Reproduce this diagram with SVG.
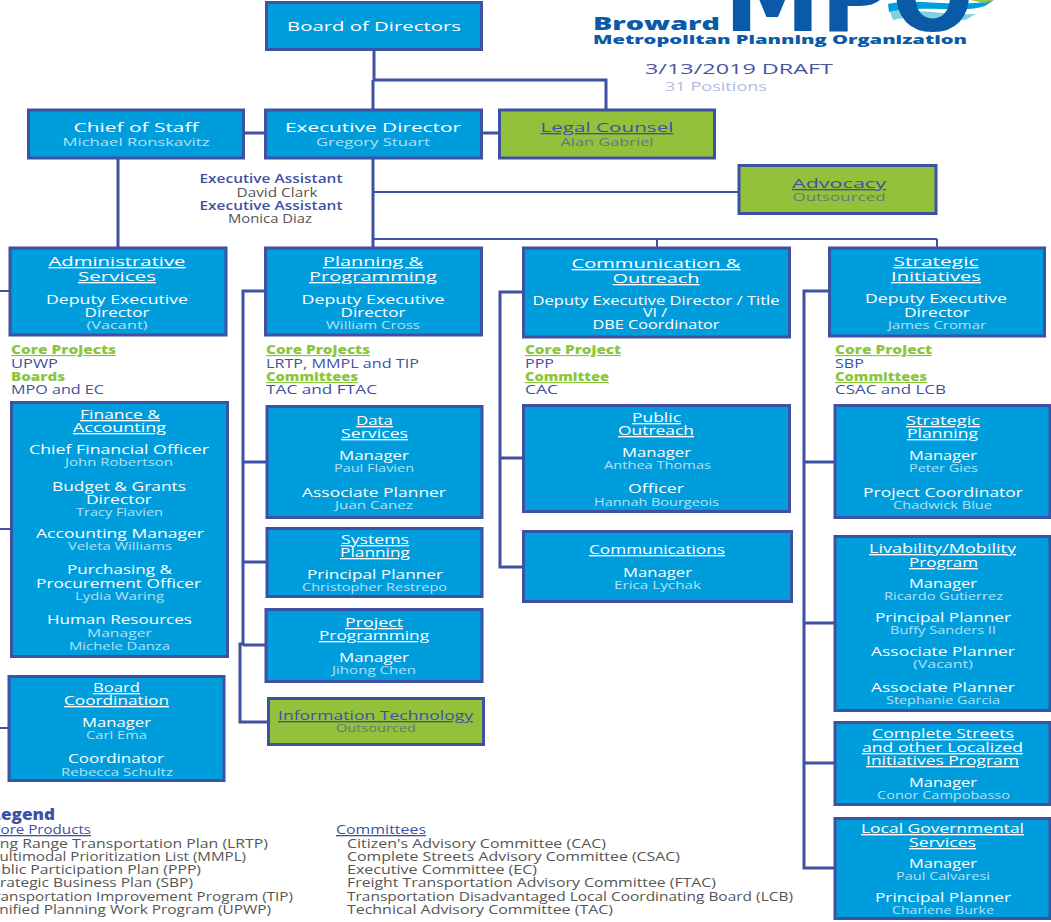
<svg xmlns="http://www.w3.org/2000/svg" width="1051" height="922" viewBox="0 0 1051 922">
<style>
text{font-family:"Open Sans","Liberation Sans",sans-serif;}
.b{fill:#009ddc;stroke:#3f51a3;stroke-width:3}
.g{fill:#93c13c;stroke:#3f51a3;stroke-width:3}
.c{fill:none;stroke:#3f51a3;stroke-width:3}
.t{stroke-width:2}
.h,.r,.n,.gh,.gn{text-anchor:middle}
.h{fill:#fff;font-size:13.5px;text-decoration:underline}
.ht{fill:#fff;font-size:13.5px;text-anchor:middle}
.r{fill:#fff;font-size:12.5px;font-weight:500}
.n{fill:#b5e0f5;font-size:11px}
.gh{fill:#3f51a3;font-size:13.5px;text-decoration:underline}
.gn{fill:#5a7d7a;font-size:11px}
.lh{fill:#8cc63f;font-size:11.5px;font-weight:800;text-decoration:underline}
.lv{fill:#3f51a3;font-size:12px;font-weight:500}
.ea{fill:#3f51a3;font-size:12px;font-weight:600;text-anchor:middle}
.ep{fill:#555;font-size:12px;text-anchor:middle}
.lg{fill:#555;font-size:12px}
.lu{fill:#3f51a3;font-size:13px;text-decoration:underline}
.logo{fill:#0a5aa8;font-weight:800}
</style>
<g id="connectors">
<path class="c" d="M374 50V80M373 80V110M373 80H606V110M265 133H244M482 133H499M373 158V248M118 159V247"/>
<path class="c t" d="M373 192H738M373 239H937M657 239V248M937 239V248"/>
<path class="c" d="M264 291H243V645M243 462H266M243 562H266M243 645H265"/>
<path class="c" d="M243 644H240V722H267"/>
<path class="c" d="M522 292H500V567H522M500 458H522"/>
<path class="c" d="M828 291H804V868H834M804 462H834M804 623H834M804 763H834"/>
<path class="c t" d="M0 291H9M0 529H10M0 728H8"/>
</g>
<g id="logo">
<path d="M888 4C915 -3 960 9 994 0L985 6C960 14 925 4 889 12Z" fill="#00a0dc"/>
<path d="M890 12C920 8 945 16 976 14L965 20C940 22 915 14 893 20Z" fill="#7fd0de"/>
<path d="M970 0H993L985 3Z" fill="#93c13c"/>
<text class="logo" x="724" y="31" font-size="100" textLength="250" lengthAdjust="spacingAndGlyphs" style="font-family:'DejaVu Sans',sans-serif">MPO</text>
<text class="logo" x="593" y="30" font-size="17.5" textLength="127" lengthAdjust="spacingAndGlyphs">Broward</text>
<text class="logo" x="593" y="44" font-size="13" textLength="374" lengthAdjust="spacingAndGlyphs">Metropolitan Planning Organization</text>
<text x="645" y="74" font-size="15" fill="#4a55a2" textLength="188" lengthAdjust="spacingAndGlyphs">3/13/2019 DRAFT</text>
<text x="665" y="91" font-size="13" fill="#b4bbdf" textLength="102" lengthAdjust="spacingAndGlyphs">31 Positions</text>
</g>
<g id="board"><rect class="b" x="266.500" y="2.500" width="215" height="47"/><text class="ht" x="374" y="31" textLength="174" lengthAdjust="spacingAndGlyphs">Board of Directors</text></g>
<g id="chief"><rect class="b" x="28.500" y="110" width="215" height="48"/><text class="ht" x="136" y="132" textLength="125" lengthAdjust="spacingAndGlyphs">Chief of Staff</text><text class="n" x="136" y="146" textLength="147" lengthAdjust="spacingAndGlyphs">Michael Ronskavitz</text></g>
<g id="executive"><rect class="b" x="265.500" y="110" width="216" height="48"/><text class="ht" x="373" y="132" textLength="176" lengthAdjust="spacingAndGlyphs">Executive Director</text><text class="n" x="373" y="146" textLength="114" lengthAdjust="spacingAndGlyphs">Gregory Stuart</text></g>
<g id="legal"><rect class="g" x="499.500" y="110" width="215" height="48"/><text class="gh" x="607" y="132" textLength="133" lengthAdjust="spacingAndGlyphs">Legal Counsel</text><text class="gn" x="607" y="146" textLength="93" lengthAdjust="spacingAndGlyphs">Alan Gabriel</text></g>
<g id="advocacy"><rect class="g" x="739" y="165.500" width="197" height="48"/><text class="gh" x="839" y="188" textLength="94" lengthAdjust="spacingAndGlyphs">Advocacy</text><text class="gn" x="839" y="201" textLength="93" lengthAdjust="spacingAndGlyphs">Outsourced</text></g>
<g id="assistants"><text class="ea" x="271" y="183" textLength="143" lengthAdjust="spacingAndGlyphs">Executive Assistant</text><text class="ep" x="277" y="197" textLength="81" lengthAdjust="spacingAndGlyphs">David Clark</text><text class="ea" x="271" y="210" textLength="143" lengthAdjust="spacingAndGlyphs">Executive Assistant</text><text class="ep" x="270" y="223" textLength="84" lengthAdjust="spacingAndGlyphs">Monica Diaz</text></g>
<g id="admin"><rect class="b" x="10" y="248" width="216" height="87"/>
<text class="h" x="117" y="266" textLength="137" lengthAdjust="spacingAndGlyphs">Administrative</text><text class="h" x="117" y="281" textLength="78" lengthAdjust="spacingAndGlyphs">Services</text><text class="r" x="117" y="304" textLength="142" lengthAdjust="spacingAndGlyphs">Deputy Executive</text><text class="r" x="117" y="317" textLength="65" lengthAdjust="spacingAndGlyphs">Director</text><text class="n" x="117" y="329" textLength="61" lengthAdjust="spacingAndGlyphs">(Vacant)</text></g>
<g id="admin-notes"><text class="lh" x="11" y="354" textLength="105" lengthAdjust="spacingAndGlyphs">Core Projects</text><text class="lv" x="11" y="368" textLength="47" lengthAdjust="spacingAndGlyphs">UPWP</text><text class="lh" x="11" y="381" textLength="54" lengthAdjust="spacingAndGlyphs" style="text-decoration:none">Boards</text><text class="lv" x="11" y="394" textLength="93" lengthAdjust="spacingAndGlyphs">MPO and EC</text></g>
<g id="planning"><rect class="b" x="265.500" y="248" width="216" height="87"/>
<text class="h" x="373" y="266" textLength="100" lengthAdjust="spacingAndGlyphs">Planning &amp;</text><text class="h" x="373" y="281" textLength="128" lengthAdjust="spacingAndGlyphs">Programming</text><text class="r" x="373" y="304" textLength="143" lengthAdjust="spacingAndGlyphs">Deputy Executive</text><text class="r" x="373" y="317" textLength="65" lengthAdjust="spacingAndGlyphs">Director</text><text class="n" x="373" y="329" textLength="94" lengthAdjust="spacingAndGlyphs">William Cross</text></g>
<g id="planning-notes"><text class="lh" x="266" y="354" textLength="104" lengthAdjust="spacingAndGlyphs">Core Projects</text><text class="lv" x="266" y="368" textLength="153" lengthAdjust="spacingAndGlyphs">LRTP, MMPL and TIP</text><text class="lh" x="266" y="381" textLength="92" lengthAdjust="spacingAndGlyphs">Committees</text><text class="lv" x="266" y="394" textLength="111" lengthAdjust="spacingAndGlyphs">TAC and FTAC</text></g>
<g id="communication"><rect class="b" x="523.500" y="248" width="266" height="89"/>
<text class="h" x="656" y="268" textLength="169" lengthAdjust="spacingAndGlyphs">Communication &amp;</text><text class="h" x="656" y="283" textLength="87" lengthAdjust="spacingAndGlyphs">Outreach</text><text class="r" x="656" y="305" textLength="247" lengthAdjust="spacingAndGlyphs">Deputy Executive Director / Title</text><text class="r" x="655" y="317" textLength="24" lengthAdjust="spacingAndGlyphs">VI /</text><text class="r" x="656" y="329" textLength="127" lengthAdjust="spacingAndGlyphs">DBE Coordinator</text></g>
<g id="communication-notes"><text class="lh" x="525" y="354" textLength="96" lengthAdjust="spacingAndGlyphs">Core Project</text><text class="lv" x="525" y="368" textLength="29" lengthAdjust="spacingAndGlyphs">PPP</text><text class="lh" x="525" y="381" textLength="84" lengthAdjust="spacingAndGlyphs">Committee</text><text class="lv" x="525" y="394" textLength="33" lengthAdjust="spacingAndGlyphs">CAC</text></g>
<g id="strategic"><rect class="b" x="829.500" y="248" width="215" height="88"/>
<text class="h" x="936" y="266" textLength="85" lengthAdjust="spacingAndGlyphs">Strategic</text><text class="h" x="936" y="281" textLength="90" lengthAdjust="spacingAndGlyphs">Initiatives</text><text class="r" x="936" y="303" textLength="142" lengthAdjust="spacingAndGlyphs">Deputy Executive</text><text class="r" x="937" y="317" textLength="66" lengthAdjust="spacingAndGlyphs">Director</text><text class="n" x="937" y="329" textLength="98" lengthAdjust="spacingAndGlyphs">James Cromar</text></g>
<g id="strategic-notes"><text class="lh" x="835" y="354" textLength="97" lengthAdjust="spacingAndGlyphs">Core Project</text><text class="lv" x="835" y="368" textLength="29" lengthAdjust="spacingAndGlyphs">SBP</text><text class="lh" x="835" y="381" textLength="92" lengthAdjust="spacingAndGlyphs">Committees</text><text class="lv" x="835" y="394" textLength="111" lengthAdjust="spacingAndGlyphs">CSAC and LCB</text></g>
<g id="finance"><rect class="b" x="11.500" y="402.500" width="216" height="254"/>
<text class="h" x="120" y="419" textLength="80" lengthAdjust="spacingAndGlyphs">Finance &amp;</text><text class="h" x="119.500" y="432" textLength="93" lengthAdjust="spacingAndGlyphs">Accounting</text><text class="r" x="119" y="454" textLength="180" lengthAdjust="spacingAndGlyphs">Chief Financial Officer</text><text class="n" x="119" y="466" textLength="108" lengthAdjust="spacingAndGlyphs">John Robertson</text><text class="r" x="119" y="491" textLength="134" lengthAdjust="spacingAndGlyphs">Budget &amp; Grants</text><text class="r" x="119" y="504" textLength="66" lengthAdjust="spacingAndGlyphs">Director</text><text class="n" x="119.500" y="516" textLength="87" lengthAdjust="spacingAndGlyphs">Tracy Flavien</text><text class="r" x="120" y="538" textLength="168" lengthAdjust="spacingAndGlyphs">Accounting Manager</text><text class="n" x="120" y="550" textLength="104" lengthAdjust="spacingAndGlyphs">Veleta Williams</text><text class="r" x="119.500" y="574" textLength="105" lengthAdjust="spacingAndGlyphs">Purchasing &amp;</text><text class="r" x="118.500" y="588" textLength="165" lengthAdjust="spacingAndGlyphs">Procurement Officer</text><text class="n" x="119.500" y="600" textLength="89" lengthAdjust="spacingAndGlyphs">Lydia Waring</text><text class="r" x="119.500" y="624" textLength="145" lengthAdjust="spacingAndGlyphs">Human Resources</text><text class="n" x="119.500" y="637" textLength="65" lengthAdjust="spacingAndGlyphs">Manager</text><text class="n" x="119.500" y="650" textLength="101" lengthAdjust="spacingAndGlyphs">Michele Danza</text></g>
<g id="board-coordination"><rect class="b" x="9" y="676.500" width="215" height="104"/>
<text class="h" x="116.500" y="692" textLength="47" lengthAdjust="spacingAndGlyphs">Board</text><text class="h" x="116.500" y="705" textLength="105" lengthAdjust="spacingAndGlyphs">Coordination</text><text class="r" x="116.500" y="727" textLength="69" lengthAdjust="spacingAndGlyphs">Manager</text><text class="n" x="116.500" y="739" textLength="61" lengthAdjust="spacingAndGlyphs">Carl Ema</text><text class="r" x="116" y="763" textLength="96" lengthAdjust="spacingAndGlyphs">Coordinator</text><text class="n" x="117" y="776" textLength="112" lengthAdjust="spacingAndGlyphs">Rebecca Schultz</text></g>
<g id="data-services"><rect class="b" x="267" y="406.500" width="215" height="111"/>
<text class="h" x="374.500" y="425" textLength="37" lengthAdjust="spacingAndGlyphs">Data</text><text class="h" x="374.500" y="438" textLength="67" lengthAdjust="spacingAndGlyphs">Services</text><text class="r" x="374" y="460" textLength="70" lengthAdjust="spacingAndGlyphs">Manager</text><text class="n" x="374" y="472" textLength="80" lengthAdjust="spacingAndGlyphs">Paul Flavien</text><text class="r" x="374" y="497" textLength="144" lengthAdjust="spacingAndGlyphs">Associate Planner</text><text class="n" x="374" y="509" textLength="78" lengthAdjust="spacingAndGlyphs">Juan Canez</text></g>
<g id="systems-planning"><rect class="b" x="267" y="528.500" width="215" height="68"/>
<text class="h" x="375" y="544" textLength="68" lengthAdjust="spacingAndGlyphs">Systems</text><text class="h" x="375" y="557" textLength="70" lengthAdjust="spacingAndGlyphs">Planning</text><text class="r" x="375" y="579" textLength="136" lengthAdjust="spacingAndGlyphs">Principal Planner</text><text class="n" x="374.500" y="591" textLength="145" lengthAdjust="spacingAndGlyphs">Christopher Restrepo</text></g>
<g id="project-programming"><rect class="b" x="266" y="609.500" width="216" height="72"/>
<text class="h" x="374" y="627" textLength="58" lengthAdjust="spacingAndGlyphs">Project</text><text class="h" x="374" y="640" textLength="110" lengthAdjust="spacingAndGlyphs">Programming</text><text class="r" x="374" y="662" textLength="70" lengthAdjust="spacingAndGlyphs">Manager</text><text class="n" x="374" y="674" textLength="84" lengthAdjust="spacingAndGlyphs">Jihong Chen</text></g>
<g id="information-technology"><rect class="g" x="268.500" y="698.500" width="215" height="46"/>
<text class="gh" x="375.500" y="720" textLength="195" lengthAdjust="spacingAndGlyphs">Information Technology</text><text class="gn" x="376" y="732" textLength="80" lengthAdjust="spacingAndGlyphs">Outsourced</text></g>
<g id="public-outreach"><rect class="b" x="523.500" y="405.500" width="266" height="106"/>
<text class="h" x="656.500" y="422" textLength="49" lengthAdjust="spacingAndGlyphs">Public</text><text class="h" x="656" y="435" textLength="76" lengthAdjust="spacingAndGlyphs">Outreach</text><text class="r" x="656.500" y="457" textLength="69" lengthAdjust="spacingAndGlyphs">Manager</text><text class="n" x="657.500" y="469" textLength="107" lengthAdjust="spacingAndGlyphs">Anthea Thomas</text><text class="r" x="656" y="493" textLength="56" lengthAdjust="spacingAndGlyphs">Officer</text><text class="n" x="656.500" y="506" textLength="125" lengthAdjust="spacingAndGlyphs">Hannah Bourgeois</text></g>
<g id="communications"><rect class="b" x="523.500" y="531.500" width="268" height="70"/>
<text class="h" x="657" y="554" textLength="136" lengthAdjust="spacingAndGlyphs">Communications</text><text class="r" x="657.500" y="577" textLength="69" lengthAdjust="spacingAndGlyphs">Manager</text><text class="n" x="657.500" y="589" textLength="87" lengthAdjust="spacingAndGlyphs">Erica Lychak</text></g>
<g id="strategic-planning"><rect class="b" x="835" y="405.500" width="215" height="112"/>
<text class="h" x="943" y="425" textLength="74" lengthAdjust="spacingAndGlyphs">Strategic</text><text class="h" x="942.500" y="438" textLength="71" lengthAdjust="spacingAndGlyphs">Planning</text><text class="r" x="943" y="460" textLength="68" lengthAdjust="spacingAndGlyphs">Manager</text><text class="n" x="943.500" y="472" textLength="69" lengthAdjust="spacingAndGlyphs">Peter Gies</text><text class="r" x="943" y="497" textLength="160" lengthAdjust="spacingAndGlyphs">Project Coordinator</text><text class="n" x="942.500" y="509" textLength="99" lengthAdjust="spacingAndGlyphs">Chadwick Blue</text></g>
<g id="livability"><rect class="b" x="835" y="536.500" width="215" height="174"/>
<text class="h" x="942.500" y="553" textLength="147" lengthAdjust="spacingAndGlyphs">Livability/Mobility</text><text class="h" x="943.500" y="567" textLength="69" lengthAdjust="spacingAndGlyphs">Program</text><text class="r" x="943" y="588" textLength="68" lengthAdjust="spacingAndGlyphs">Manager</text><text class="n" x="943.500" y="600" textLength="119" lengthAdjust="spacingAndGlyphs">Ricardo Gutierrez</text><text class="r" x="943" y="622" textLength="136" lengthAdjust="spacingAndGlyphs">Principal Planner</text><text class="n" x="943" y="634" textLength="106" lengthAdjust="spacingAndGlyphs">Buffy Sanders II</text><text class="r" x="943" y="656" textLength="144" lengthAdjust="spacingAndGlyphs">Associate Planner</text><text class="n" x="943" y="668" textLength="60" lengthAdjust="spacingAndGlyphs">(Vacant)</text><text class="r" x="943" y="692" textLength="144" lengthAdjust="spacingAndGlyphs">Associate Planner</text><text class="n" x="943" y="704" textLength="114" lengthAdjust="spacingAndGlyphs">Stephanie Garcia</text></g>
<g id="complete-streets"><rect class="b" x="835" y="722.500" width="215" height="82"/>
<text class="h" x="943" y="738" textLength="142" lengthAdjust="spacingAndGlyphs">Complete Streets</text><text class="h" x="942.500" y="752" textLength="161" lengthAdjust="spacingAndGlyphs">and other Localized</text><text class="h" x="942.500" y="765" textLength="153" lengthAdjust="spacingAndGlyphs">Initiatives Program</text><text class="r" x="943" y="787" textLength="68" lengthAdjust="spacingAndGlyphs">Manager</text><text class="n" x="943.500" y="799" textLength="133" lengthAdjust="spacingAndGlyphs">Conor Campobasso</text></g>
<g id="local-services"><rect class="b" x="835" y="818.500" width="215" height="100"/>
<text class="h" x="942.500" y="833" textLength="163" lengthAdjust="spacingAndGlyphs">Local Governmental</text><text class="h" x="942.500" y="847" textLength="67" lengthAdjust="spacingAndGlyphs">Services</text><text class="r" x="943" y="868" textLength="68" lengthAdjust="spacingAndGlyphs">Manager</text><text class="n" x="943" y="880" textLength="94" lengthAdjust="spacingAndGlyphs">Paul Calvaresi</text><text class="r" x="943" y="902" textLength="136" lengthAdjust="spacingAndGlyphs">Principal Planner</text><text class="n" x="943" y="914" textLength="102" lengthAdjust="spacingAndGlyphs">Charlene Burke</text></g>
<g id="legend">
<text x="-9" y="820" font-size="15" font-weight="800" fill="#3f51a3" textLength="64" lengthAdjust="spacingAndGlyphs">Legend</text>
<text class="lu" x="-9" y="834" textLength="100" lengthAdjust="spacingAndGlyphs">Core Products</text>
<text class="lg" x="-18" y="848" textLength="286" lengthAdjust="spacingAndGlyphs">Long Range Transportation Plan (LRTP)</text>
<text class="lg" x="-14" y="861" textLength="260" lengthAdjust="spacingAndGlyphs">Multimodal Prioritization List (MMPL)</text>
<text class="lg" x="-18" y="874" textLength="219" lengthAdjust="spacingAndGlyphs">Public Participation Plan (PPP)</text>
<text class="lg" x="-14" y="887" textLength="207" lengthAdjust="spacingAndGlyphs">Strategic Business Plan (SBP)</text>
<text class="lg" x="-14" y="901" textLength="307" lengthAdjust="spacingAndGlyphs">Transportation Improvement Program (TIP)</text>
<text class="lg" x="-12" y="914" textLength="283" lengthAdjust="spacingAndGlyphs">Unified Planning Work Program (UPWP)</text>
<text class="lu" x="336" y="834" textLength="90" lengthAdjust="spacingAndGlyphs">Committees</text>
<text class="lg" x="347" y="848" textLength="259" lengthAdjust="spacingAndGlyphs">Citizen's Advisory Committee (CAC)</text>
<text class="lg" x="347" y="861" textLength="333" lengthAdjust="spacingAndGlyphs">Complete Streets Advisory Committee (CSAC)</text>
<text class="lg" x="347" y="874" textLength="190" lengthAdjust="spacingAndGlyphs">Executive Committee (EC)</text>
<text class="lg" x="347" y="887" textLength="369" lengthAdjust="spacingAndGlyphs">Freight Transportation Advisory Committee (FTAC)</text>
<text class="lg" x="347" y="901" textLength="446" lengthAdjust="spacingAndGlyphs">Transportation Disadvantaged Local Coordinating Board (LCB)</text>
<text class="lg" x="347" y="914" textLength="266" lengthAdjust="spacingAndGlyphs">Technical Advisory Committee (TAC)</text>
</g>
</svg>
